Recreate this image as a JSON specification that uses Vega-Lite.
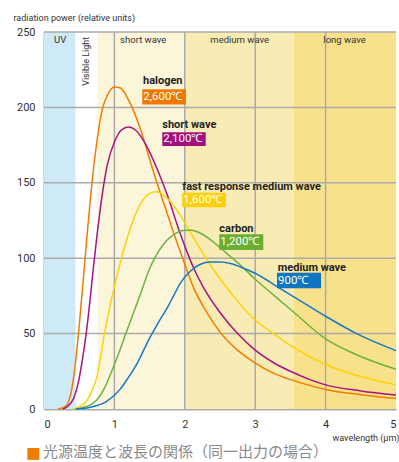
{
  "$schema": "https://vega.github.io/schema/vega-lite/v6.json",
  "width": 352,
  "height": 377,
  "autosize": {"type": "none"},
  "padding": {"left": 44, "top": 32, "right": 3, "bottom": 53},
  "background": "white",
  "config": {"view": {"stroke": null}, "font": "Roboto"},
  "datasets": {
    "bands": [
      {"band": "UV", "x0": 0, "x1": 0.45},
      {"band": "visible", "x0": 0.45, "x1": 0.76},
      {"band": "short", "x0": 0.76, "x1": 2},
      {"band": "medium", "x0": 2, "x1": 3.55},
      {"band": "long", "x0": 3.55, "x1": 5}
    ],
    "vgrid": [{"v": 1}, {"v": 2}, {"v": 3}, {"v": 4}],
    "hgrid": [{"v": 50}, {"v": 100}, {"v": 150}, {"v": 200}, {"v": 250}],
    "bandLabels": [
      {"t": "UV", "x": 0.23, "y": 244.5},
      {"t": "short wave", "x": 1.41, "y": 244.5},
      {"t": "medium wave", "x": 2.78, "y": 244.5},
      {"t": "long wave", "x": 4.27, "y": 244.5}
    ],
    "curves": [
      {"s": "halogen", "x": 0.2, "y": 0}, {"s": "halogen", "x": 0.28, "y": 1}, {"s": "halogen", "x": 0.34, "y": 4}, {"s": "halogen", "x": 0.39, "y": 12}, {"s": "halogen", "x": 0.44, "y": 28}, {"s": "halogen", "x": 0.5, "y": 55}, {"s": "halogen", "x": 0.58, "y": 98}, {"s": "halogen", "x": 0.66, "y": 140}, {"s": "halogen", "x": 0.75, "y": 177}, {"s": "halogen", "x": 0.83, "y": 199}, {"s": "halogen", "x": 0.9, "y": 208}, {"s": "halogen", "x": 1.0, "y": 213.5}, {"s": "halogen", "x": 1.08, "y": 213}, {"s": "halogen", "x": 1.2, "y": 205}, {"s": "halogen", "x": 1.36, "y": 187}, {"s": "halogen", "x": 1.55, "y": 158}, {"s": "halogen", "x": 1.74, "y": 131}, {"s": "halogen", "x": 1.9, "y": 109}, {"s": "halogen", "x": 2.0, "y": 96}, {"s": "halogen", "x": 2.12, "y": 81}, {"s": "halogen", "x": 2.3, "y": 65}, {"s": "halogen", "x": 2.5, "y": 51}, {"s": "halogen", "x": 2.75, "y": 39}, {"s": "halogen", "x": 3.0, "y": 30.5}, {"s": "halogen", "x": 3.25, "y": 24}, {"s": "halogen", "x": 3.5, "y": 19.5}, {"s": "halogen", "x": 3.75, "y": 16}, {"s": "halogen", "x": 4.0, "y": 13}, {"s": "halogen", "x": 4.5, "y": 9.5}, {"s": "halogen", "x": 5.0, "y": 7},
      {"s": "short", "x": 0.27, "y": 0}, {"s": "short", "x": 0.33, "y": 1.5}, {"s": "short", "x": 0.42, "y": 7}, {"s": "short", "x": 0.48, "y": 16}, {"s": "short", "x": 0.55, "y": 34}, {"s": "short", "x": 0.62, "y": 58}, {"s": "short", "x": 0.7, "y": 93}, {"s": "short", "x": 0.76, "y": 118}, {"s": "short", "x": 0.83, "y": 143}, {"s": "short", "x": 0.9, "y": 162}, {"s": "short", "x": 1.0, "y": 177}, {"s": "short", "x": 1.1, "y": 185}, {"s": "short", "x": 1.2, "y": 187}, {"s": "short", "x": 1.3, "y": 185}, {"s": "short", "x": 1.45, "y": 175}, {"s": "short", "x": 1.6, "y": 160}, {"s": "short", "x": 1.75, "y": 142}, {"s": "short", "x": 1.93, "y": 117}, {"s": "short", "x": 2.0, "y": 108}, {"s": "short", "x": 2.14, "y": 92}, {"s": "short", "x": 2.26, "y": 81}, {"s": "short", "x": 2.5, "y": 64}, {"s": "short", "x": 2.75, "y": 50}, {"s": "short", "x": 3.0, "y": 39}, {"s": "short", "x": 3.25, "y": 31}, {"s": "short", "x": 3.5, "y": 25}, {"s": "short", "x": 3.75, "y": 20}, {"s": "short", "x": 4.0, "y": 16}, {"s": "short", "x": 4.5, "y": 12}, {"s": "short", "x": 5.0, "y": 9.3},
      {"s": "fast", "x": 0.42, "y": 0}, {"s": "fast", "x": 0.5, "y": 1.5}, {"s": "fast", "x": 0.6, "y": 5}, {"s": "fast", "x": 0.68, "y": 12}, {"s": "fast", "x": 0.75, "y": 21}, {"s": "fast", "x": 0.86, "y": 50}, {"s": "fast", "x": 0.95, "y": 71}, {"s": "fast", "x": 1.03, "y": 87}, {"s": "fast", "x": 1.2, "y": 116}, {"s": "fast", "x": 1.36, "y": 135}, {"s": "fast", "x": 1.5, "y": 143}, {"s": "fast", "x": 1.6, "y": 144}, {"s": "fast", "x": 1.72, "y": 141}, {"s": "fast", "x": 1.84, "y": 135}, {"s": "fast", "x": 1.93, "y": 129}, {"s": "fast", "x": 2.03, "y": 121}, {"s": "fast", "x": 2.17, "y": 110}, {"s": "fast", "x": 2.4, "y": 93}, {"s": "fast", "x": 2.67, "y": 76}, {"s": "fast", "x": 3.0, "y": 59}, {"s": "fast", "x": 3.26, "y": 50}, {"s": "fast", "x": 3.54, "y": 41}, {"s": "fast", "x": 4.0, "y": 29.5}, {"s": "fast", "x": 4.5, "y": 21.5}, {"s": "fast", "x": 5.0, "y": 16},
      {"s": "carbon", "x": 0.45, "y": 0}, {"s": "carbon", "x": 0.55, "y": 1}, {"s": "carbon", "x": 0.65, "y": 2.5}, {"s": "carbon", "x": 0.75, "y": 6}, {"s": "carbon", "x": 0.85, "y": 13}, {"s": "carbon", "x": 0.97, "y": 26}, {"s": "carbon", "x": 1.07, "y": 38}, {"s": "carbon", "x": 1.17, "y": 51}, {"s": "carbon", "x": 1.36, "y": 75}, {"s": "carbon", "x": 1.5, "y": 93}, {"s": "carbon", "x": 1.62, "y": 104}, {"s": "carbon", "x": 1.75, "y": 112}, {"s": "carbon", "x": 1.87, "y": 116.5}, {"s": "carbon", "x": 2.0, "y": 118.5}, {"s": "carbon", "x": 2.1, "y": 118.5}, {"s": "carbon", "x": 2.2, "y": 117}, {"s": "carbon", "x": 2.4, "y": 111}, {"s": "carbon", "x": 2.6, "y": 103}, {"s": "carbon", "x": 2.8, "y": 95}, {"s": "carbon", "x": 3.0, "y": 86}, {"s": "carbon", "x": 3.25, "y": 76}, {"s": "carbon", "x": 3.54, "y": 64.5}, {"s": "carbon", "x": 4.0, "y": 46.5}, {"s": "carbon", "x": 4.44, "y": 36}, {"s": "carbon", "x": 5.0, "y": 26.3},
      {"s": "medium", "x": 0.45, "y": 0}, {"s": "medium", "x": 0.65, "y": 1}, {"s": "medium", "x": 0.89, "y": 5}, {"s": "medium", "x": 1.08, "y": 13}, {"s": "medium", "x": 1.2, "y": 21}, {"s": "medium", "x": 1.32, "y": 30}, {"s": "medium", "x": 1.5, "y": 47}, {"s": "medium", "x": 1.62, "y": 57}, {"s": "medium", "x": 1.75, "y": 67}, {"s": "medium", "x": 1.84, "y": 75}, {"s": "medium", "x": 1.93, "y": 83}, {"s": "medium", "x": 2.07, "y": 91}, {"s": "medium", "x": 2.2, "y": 95.5}, {"s": "medium", "x": 2.35, "y": 97.5}, {"s": "medium", "x": 2.5, "y": 97.5}, {"s": "medium", "x": 2.65, "y": 96.5}, {"s": "medium", "x": 2.8, "y": 94}, {"s": "medium", "x": 3.0, "y": 90}, {"s": "medium", "x": 3.35, "y": 80}, {"s": "medium", "x": 3.7, "y": 70}, {"s": "medium", "x": 4.0, "y": 61.5}, {"s": "medium", "x": 4.44, "y": 50}, {"s": "medium", "x": 5.0, "y": 38.7}
    ],
    "names": [
      {"s": "halogen", "t": "halogen", "x": 1.406, "y": 215.3},
      {"s": "short", "t": "short wave", "x": 1.68, "y": 186.3},
      {"s": "fast", "t": "fast response medium wave", "x": 1.964, "y": 145.2},
      {"s": "carbon", "t": "carbon", "x": 2.49, "y": 117.4},
      {"s": "medium", "t": "medium wave", "x": 3.32, "y": 91.8}
    ],
    "boxes": [
      {"s": "halogen", "t": "2,600℃", "x": 1.396, "x2": 2.017, "y": 212.0, "y2": 201.9, "ty": 206.9},
      {"s": "short", "t": "2,100℃", "x": 1.68, "x2": 2.297, "y": 183.5, "y2": 174.4, "ty": 178.9},
      {"s": "fast", "t": "1,600℃", "x": 1.964, "x2": 2.585, "y": 143.4, "y2": 133.8, "ty": 138.6},
      {"s": "carbon", "t": "1,200℃", "x": 2.49, "x2": 3.115, "y": 115.8, "y2": 105.4, "ty": 110.6},
      {"s": "medium", "t": "900℃", "x": 3.31, "x2": 3.935, "y": 90.4, "y2": 80.0, "ty": 85.2}
    ]
  },
  "layer": [
    {
      "data": {"name": "bands"},
      "mark": {"type": "rect"},
      "encoding": {
        "x": {"field": "x0", "type": "quantitative", "scale": {"domain": [0, 5], "nice": false, "zero": false}},
        "x2": {"field": "x1"},
        "y": {"datum": 0, "type": "quantitative", "scale": {"domain": [0, 250], "nice": false}},
        "y2": {"datum": 250},
        "fill": {"field": "band", "type": "nominal", "scale": {"domain": ["UV", "visible", "short", "medium", "long"], "range": ["#cdeaf6", "#ffffff", "#fbf5da", "#f9ebb4", "#f7e18b"]}, "legend": null}
      }
    },
    {
      "data": {"name": "vgrid"},
      "mark": {"type": "rule", "color": "#ababab", "strokeWidth": 1.5},
      "encoding": {"x": {"field": "v", "type": "quantitative"}}
    },
    {
      "data": {"name": "hgrid"},
      "mark": {"type": "rule", "color": "#ababab", "strokeWidth": 1.5},
      "encoding": {"y": {"field": "v", "type": "quantitative"}}
    },
    {
      "data": {"name": "bandLabels"},
      "mark": {"type": "text", "font": "Roboto", "fontSize": 9.5, "color": "#333333", "align": "center", "baseline": "middle"},
      "encoding": {
        "x": {"field": "x", "type": "quantitative"},
        "y": {"field": "y", "type": "quantitative"},
        "text": {"field": "t"}
      }
    },
    {
      "data": {"values": [{"t": "Visible Light", "x": 0.6, "y": 246.8}]},
      "mark": {"type": "text", "font": "Roboto", "fontSize": 9, "color": "#333333", "align": "right", "baseline": "middle", "angle": 270},
      "encoding": {
        "x": {"field": "x", "type": "quantitative"},
        "y": {"field": "y", "type": "quantitative"},
        "text": {"field": "t"}
      }
    },
    {
      "data": {"name": "curves"},
      "mark": {"type": "line", "strokeWidth": 1.5, "interpolate": "monotone"},
      "encoding": {
        "x": {
          "field": "x", "type": "quantitative",
          "axis": {
            "values": [0, 1, 2, 3, 4, 5], "format": "d", "grid": false, "ticks": false,
            "domainColor": "#ababab", "domainWidth": 2,
            "labelFontSize": 11, "labelColor": "#333333", "labelPadding": 9, "labelFont": "Roboto",
            "title": "wavelength (μm)", "titleFont": "Roboto",
            "titleFontSize": 9, "titleFontWeight": "normal", "titleColor": "#333333",
            "titleAlign": "right", "titleX": 355, "titleY": 28, "titleBaseline": "middle"
          }
        },
        "y": {
          "field": "y", "type": "quantitative",
          "axis": {
            "values": [0, 50, 100, 150, 200, 250], "format": "d", "grid": false, "ticks": false,
            "domainColor": "#ababab", "domainWidth": 2,
            "labelFontSize": 11, "labelColor": "#333333", "labelPadding": 9, "labelFont": "Roboto",
            "title": "radiation power (relative units)", "titleFont": "Roboto",
            "titleFontSize": 9, "titleFontWeight": "normal", "titleColor": "#333333",
            "titleAngle": 0, "titleAlign": "left", "titleX": -31, "titleY": -15, "titleBaseline": "middle"
          }
        },
        "stroke": {"field": "s", "type": "nominal", "scale": {"domain": ["halogen", "short", "fast", "carbon", "medium"], "range": ["#f07d00", "#a9137f", "#ffd200", "#6db33f", "#1a78c2"]}, "legend": null},
        "detail": {"field": "s"}
      }
    },
    {
      "data": {"name": "boxes"},
      "mark": {"type": "rect"},
      "encoding": {
        "x": {"field": "x", "type": "quantitative"},
        "x2": {"field": "x2"},
        "y": {"field": "y", "type": "quantitative"},
        "y2": {"field": "y2"},
        "color": {"field": "s", "type": "nominal", "scale": {"domain": ["halogen", "short", "fast", "carbon", "medium"], "range": ["#ee7800", "#a50f7d", "#fdd000", "#6aae32", "#0f75c0"]}, "legend": null}
      }
    },
    {
      "data": {"name": "boxes"},
      "mark": {"type": "text", "font": "Roboto", "fontSize": 11.5, "color": "white", "align": "left", "baseline": "middle", "dx": 1},
      "encoding": {
        "x": {"field": "x", "type": "quantitative"},
        "y": {"field": "ty", "type": "quantitative"},
        "text": {"field": "t"}
      }
    },
    {
      "data": {"name": "names"},
      "mark": {"type": "text", "font": "Roboto", "fontSize": 11, "fontWeight": "bold", "color": "#231f20", "align": "left", "baseline": "alphabetic"},
      "encoding": {
        "x": {"field": "x", "type": "quantitative"},
        "y": {"field": "y", "type": "quantitative"},
        "text": {"field": "t"}
      }
    },
    {
      "data": {"values": [{"t": "■"}]},
      "mark": {"type": "square", "size": 140, "filled": true, "color": "#f07d00", "opacity": 1},
      "encoding": {
        "x": {"datum": -0.152, "type": "quantitative"},
        "y": {"datum": -29.8, "type": "quantitative"}
      }
    },
    {
      "data": {"values": [{"t": "光源温度と波長の関係（同一出力の場合）"}]},
      "mark": {"type": "text", "font": "Noto Sans CJK JP", "fontSize": 15, "color": "#8a8a8a", "align": "left", "baseline": "middle"},
      "encoding": {
        "x": {"datum": -0.014, "type": "quantitative"},
        "y": {"datum": -28.8, "type": "quantitative"},
        "text": {"field": "t"}
      }
    }
  ]
}
